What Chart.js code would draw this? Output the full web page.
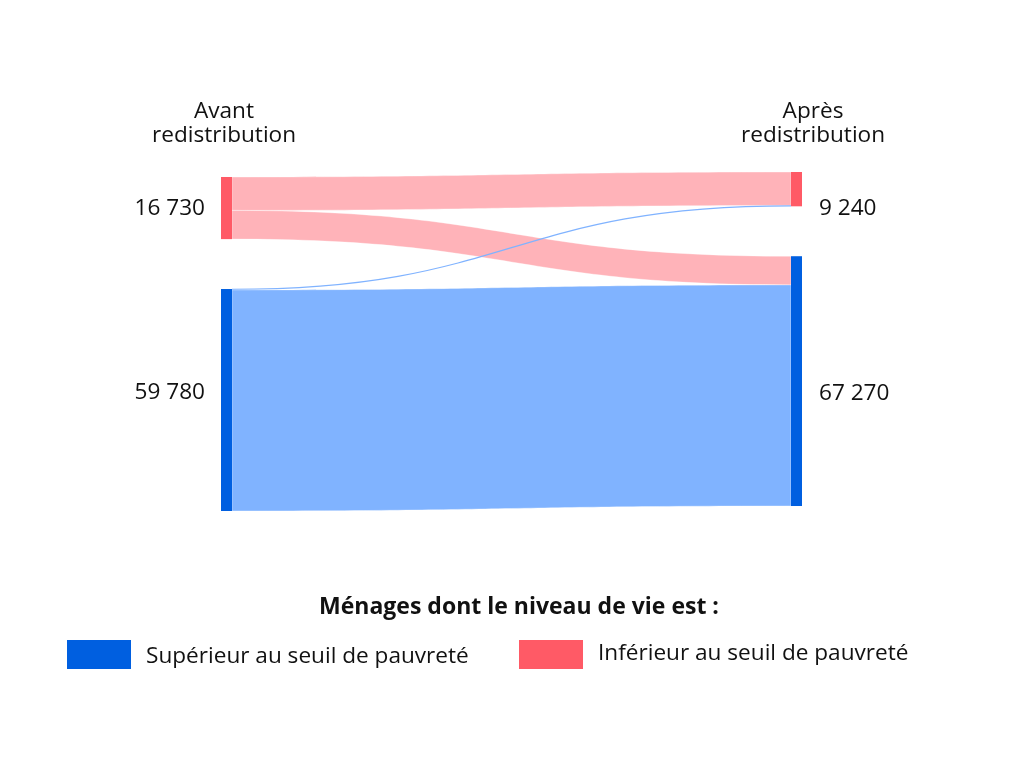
<!DOCTYPE html>
<html>
<head>
<meta charset="utf-8">
<script src="https://cdn.jsdelivr.net/npm/chart.js@4/dist/chart.umd.min.js"></script>
<style>
  html, body { margin: 0; padding: 0; background: #fff; }
  #wrap { width: 1024px; height: 768px; position: relative; }
</style>
</head>
<body>
<div id="wrap"><canvas id="sankey"></canvas></div>
<script>
// columns and categories
const columnLabels = [['Avant', 'redistribution'], ['Après', 'redistribution']]
const categories = ['Inférieur au seuil de pauvreté', 'Supérieur au seuil de pauvreté']
// node totals, same order as categories (poor first, then not poor)
const avantValues = [16730, 59780]
const apresValues = [9240, 67270]
const valueLabels = [['16 730', '59 780'], ['9 240', '67 270']]
// flows from "avant" category to "après" category
const flowSource = [0, 0, 1, 1]
const flowTarget = [0, 1, 0, 1]
const flowValues = [9000, 7730, 240, 59540]

const legendTitle = 'Ménages dont le niveau de vie est :'
const legendOrder = [1, 0]

const nodeColors = ['#ff5a66', '#005fe0']
const flowColors = ['#ffb3b9', '#80b3ff']
const FONT = '"Open Sans", "Noto Sans", sans-serif'

// layout (in value units along the y axis)
const nodeGap = 13440
const columnOffset = [1344, 0]
const yMax = 91294

const sankeyPlugin = {
  id: 'sankey',
  afterDatasetsDraw(chart) {
    const ctx = chart.ctx
    const xs = chart.scales.x
    const ys = chart.scales.y
    const nodeW = 11
    const columns = [avantValues, apresValues]

    // node positions (value units)
    const nodes = columns.map((vals, c) => {
      let acc = columnOffset[c]
      return vals.map(v => {
        const n = {start: acc, end: acc + v}
        acc += v + nodeGap
        return n
      })
    })

    const xL = xs.getPixelForValue(0)
    const xR = xs.getPixelForValue(1)
    const x0 = xL + nodeW
    const x1 = xR - nodeW
    const xm = (x0 + x1) / 2

    // flows
    const outAcc = nodes[0].map(n => n.start)
    const inAcc = nodes[1].map(n => n.start)
    const bands = flowValues.map((v, i) => {
      const s = flowSource[i], t = flowTarget[i]
      const b = {s, v, y0a: outAcc[s], y0b: outAcc[s] + v, y1a: inAcc[t], y1b: inAcc[t] + v}
      outAcc[s] += v
      inAcc[t] += v
      return b
    })

    ctx.save()
    bands.forEach(b => {
      const a0 = ys.getPixelForValue(b.y0a), b0 = ys.getPixelForValue(b.y0b)
      const a1 = ys.getPixelForValue(b.y1a), b1 = ys.getPixelForValue(b.y1b)
      if (b0 - a0 < 1.5) {
        // very thin flow: draw as a line so it stays visible
        const c0 = (a0 + b0) / 2, c1 = (a1 + b1) / 2
        ctx.beginPath()
        ctx.moveTo(x0, c0)
        ctx.bezierCurveTo(xm, c0, xm, c1, x1, c1)
        ctx.strokeStyle = flowColors[b.s]
        ctx.lineWidth = 1.2
        ctx.stroke()
        return
      }
      ctx.beginPath()
      ctx.moveTo(x0, a0)
      ctx.bezierCurveTo(xm, a0, xm, a1, x1, a1)
      ctx.lineTo(x1, b1)
      ctx.bezierCurveTo(xm, b1, xm, b0, x0, b0)
      ctx.closePath()
      ctx.fillStyle = flowColors[b.s]
      ctx.fill()
      ctx.strokeStyle = 'rgba(255,255,255,0.6)'
      ctx.lineWidth = 0.6
      ctx.stroke()
    })

    // nodes
    nodes.forEach((col, c) => {
      const nx = c === 0 ? xL : xR - nodeW
      col.forEach((n, k) => {
        const top = ys.getPixelForValue(n.start)
        const bot = ys.getPixelForValue(n.end)
        ctx.fillStyle = nodeColors[k]
        ctx.fillRect(nx, top, nodeW, bot - top)
      })
    })

    // value labels
    const labelShift = [[1, -7], [19, 12]]
    ctx.fillStyle = '#111'
    ctx.font = '22.6px ' + FONT
    ctx.textBaseline = 'middle'
    nodes.forEach((col, c) => {
      ctx.textAlign = c === 0 ? 'right' : 'left'
      const lx = c === 0 ? xL - 16 : xR + 17
      col.forEach((n, k) => {
        const cy = (ys.getPixelForValue(n.start) + ys.getPixelForValue(n.end)) / 2
        ctx.fillText(valueLabels[c][k], lx, cy + labelShift[c][k])
      })
    })

    // column headers
    ctx.textAlign = 'center'
    const headX = [xL + 3, xR + 11]
    columnLabels.forEach((lines, c) => {
      lines.forEach((t, j) => ctx.fillText(t, headX[c], 112 + j * 24))
    })

    // legend
    ctx.font = 'bold 23px ' + FONT
    ctx.fillText(legendTitle, 519, 607)
    ctx.font = '22.6px ' + FONT
    ctx.textAlign = 'left'
    const legX = [67, 519]
    const legTextY = [657, 654]
    legendOrder.forEach((k, i) => {
      ctx.fillStyle = nodeColors[k]
      ctx.fillRect(legX[i], 640, 64, 29)
      ctx.fillStyle = '#111'
      ctx.fillText(categories[k], legX[i] + 79, legTextY[i])
    })
    ctx.restore()
  }
}

new Chart(document.getElementById('sankey'), {
  type: 'scatter',
  data: {datasets: []},
  options: {
    responsive: true,
    maintainAspectRatio: false,
    animation: false,
    layout: {padding: {left: 221, right: 222, top: 172, bottom: 257}},
    plugins: {legend: {display: false}, tooltip: {enabled: false}},
    scales: {
      x: {type: 'linear', min: 0, max: 1, display: false},
      y: {type: 'linear', min: 0, max: yMax, reverse: true, display: false}
    }
  },
  plugins: [sankeyPlugin]
})
</script>
</body>
</html>
